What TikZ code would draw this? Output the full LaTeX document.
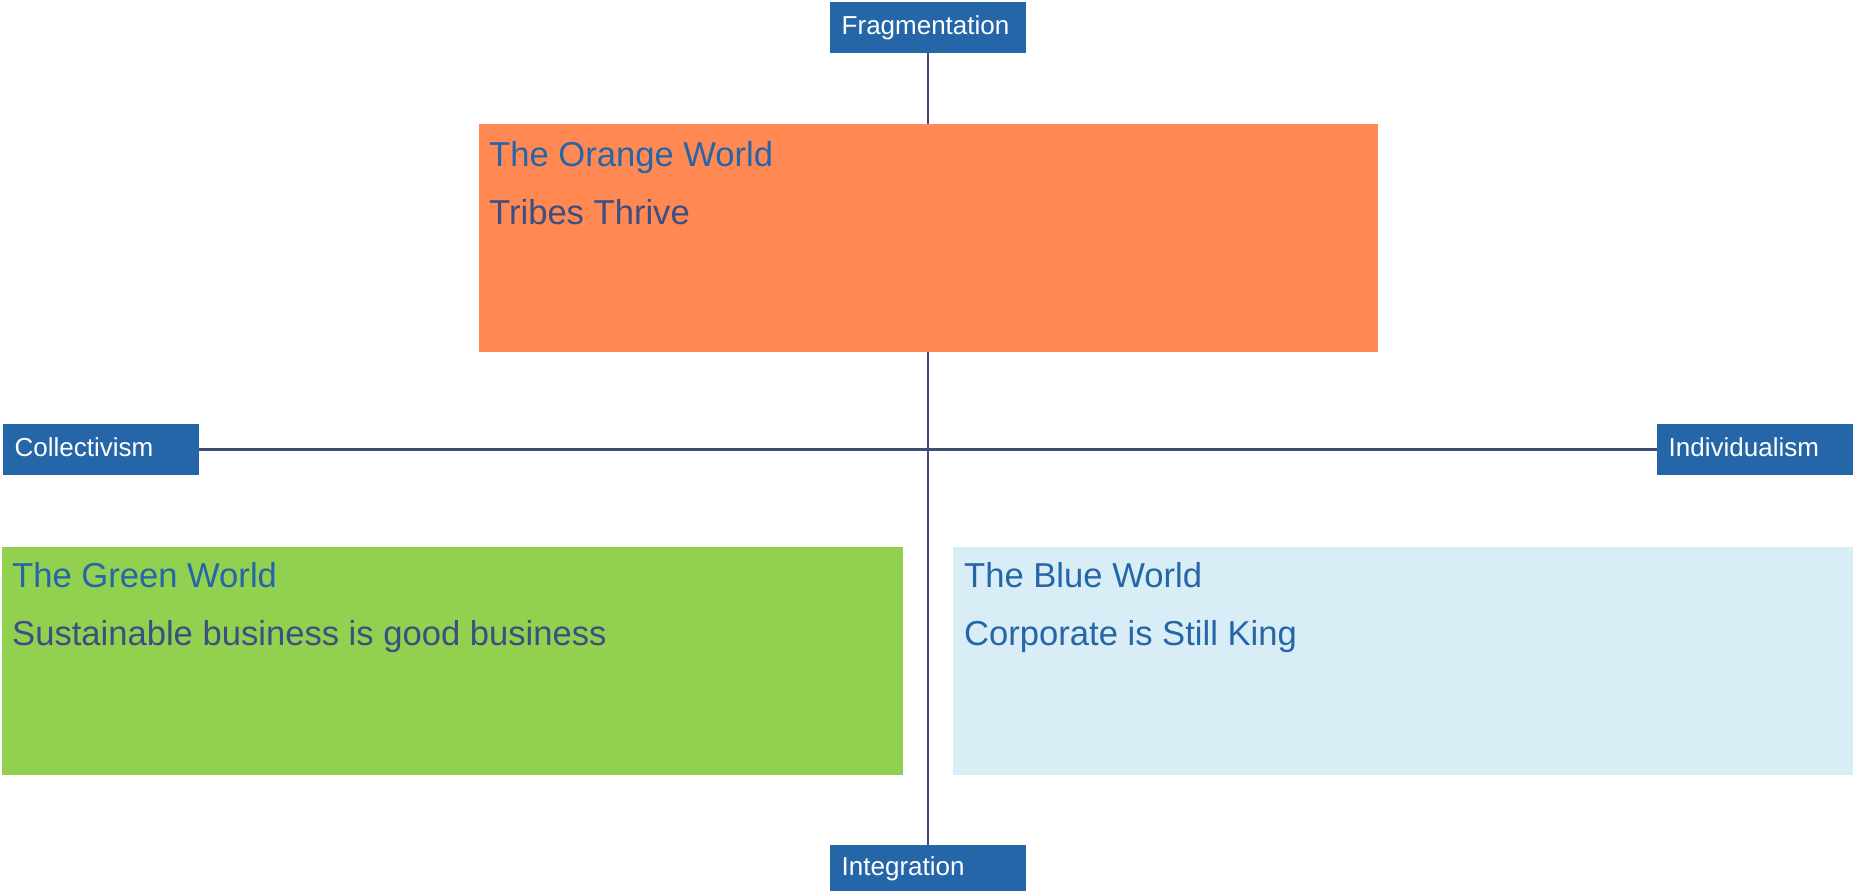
\documentclass[tikz,border=0pt]{standalone}
\usepackage{fontspec}
\setmainfont{Liberation Sans}
\usetikzlibrary{positioning}
\definecolor{axisblue}{HTML}{2566A8}
\definecolor{axisline}{HTML}{3F4C7A}
\definecolor{orangeworld}{HTML}{FF8853}
\definecolor{greenworld}{HTML}{92D050}
\definecolor{blueworld}{HTML}{D8EDF5}
\definecolor{subtext}{HTML}{3C4F80}

\begin{document}
\begin{tikzpicture}[x=1pt, y=-1pt,
  axis/.style = {fill=axisblue, text=white, font=\fontsize{26}{30}\selectfont, anchor=north west, text width=173pt, inner xsep=11.5pt, inner ysep=0pt, text height=19pt, text depth=5pt, align=left},
  world/.style = {anchor=north west, minimum width=900pt, minimum height=228pt, inner sep=0pt},
  title/.style = {anchor=base west, inner sep=0pt, text=axisblue, font=\fontsize{34.6}{40}\selectfont},
  sub/.style = {title, text=subtext}]
\useasboundingbox (0,0) rectangle (1858,891);
\node[axis, minimum height=51pt] (frag) at (830,2) {Fragmentation};
\node[axis, minimum height=46pt] (integ) at (830,845) {Integration};
\node[axis, minimum height=51pt] (coll) at (3,424) {Collectivism};
\node[axis, minimum height=51pt] (indiv) at (1657,424) {Individualism};
\draw[axisline, line width=2.5pt] (frag.south) -- (integ.north);
\draw[axisline, line width=2.5pt] (coll.east) -- (indiv.west);
\node[world, fill=orangeworld, minimum width=899pt] (orange) at (479,124) {};
\node[world, fill=greenworld, minimum width=901pt] (green) at (2,547) {};
\node[world, fill=blueworld] (blue) at (953,547) {};
\node[title] (t1) at (489,166) {The Orange World};
\node[sub] (s1) at (489,224) {Tribes Thrive};
\node[title] (t2) at (12,587) {The Green World};
\node[sub] (s2) at (12,645) {Sustainable business is good business};
\node[title] (t3) at (964,587) {The Blue World};
\node[title] (s3) at (964,645) {Corporate is Still King};
\end{tikzpicture}
\end{document}
